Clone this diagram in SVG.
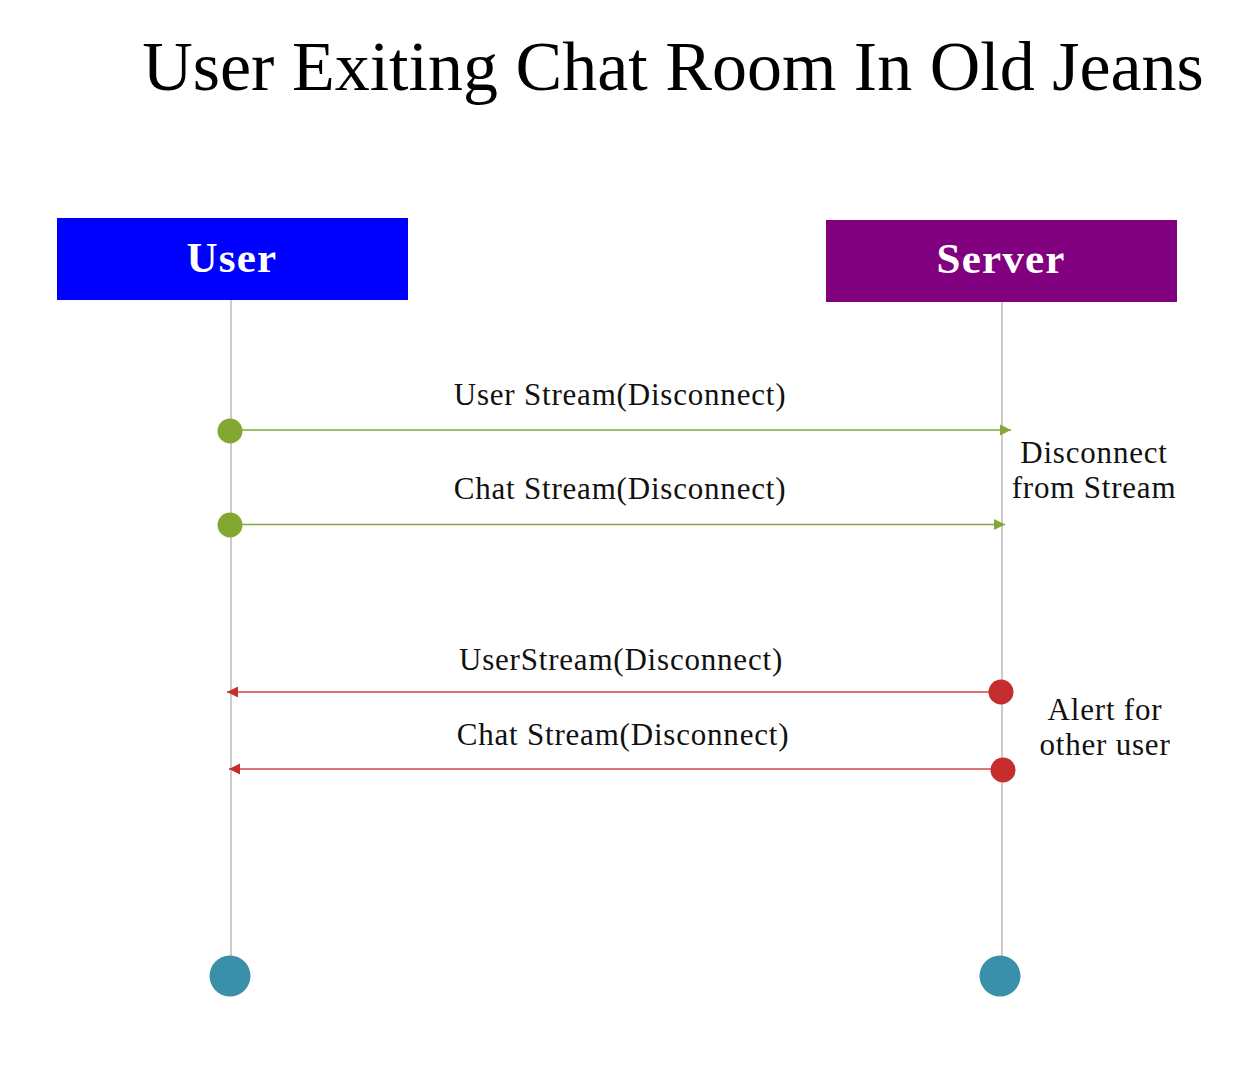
<svg xmlns="http://www.w3.org/2000/svg" width="1256" height="1092" viewBox="0 0 1256 1092">
<style>
.title{font-family:"Liberation Serif","DejaVu Serif",serif;font-size:70px;fill:#000}
.hdr{font-family:"Liberation Serif","DejaVu Serif",serif;font-size:43px;font-weight:bold;fill:#fff;letter-spacing:1.2px}
.lbl{font-family:"Liberation Serif","DejaVu Serif",serif;font-size:31px;fill:#111;letter-spacing:0.8px}
.note{font-family:"Liberation Serif","DejaVu Serif",serif;font-size:31px;fill:#111;letter-spacing:0.8px}
.life{stroke:#a8a8a8;stroke-width:1.2}
.g{stroke:#82a83a;stroke-width:1.5;fill:none}
.r{stroke:#d64545;stroke-width:1.5;fill:none}
</style>
<defs>
<marker id="ag" markerWidth="12" markerHeight="12" refX="11" refY="6" orient="auto" markerUnits="userSpaceOnUse">
<path d="M0,0.5 L11,6 L0,11.5 Z" fill="#82a83a"/>
</marker>
<marker id="ar" markerWidth="12" markerHeight="12" refX="11" refY="6" orient="auto" markerUnits="userSpaceOnUse">
<path d="M0,0.5 L11,6 L0,11.5 Z" fill="#c62d2d"/>
</marker>
</defs>
<rect width="1256" height="1092" fill="#fff"/>
<text class="title" x="673" y="90" text-anchor="middle">User Exiting Chat Room In Old Jeans</text>

<g id="lifelines">
<line class="life" x1="231" y1="300" x2="231" y2="962"/>
<line class="life" x1="1002" y1="302" x2="1002" y2="962"/>
</g>

<g id="user">
<rect x="57" y="218" width="351" height="82" fill="#0000ff"/>
<text class="hdr" x="232" y="272" text-anchor="middle">User</text>
</g>
<g id="server">
<rect x="826" y="220" width="351" height="82" fill="#800080"/>
<text class="hdr" x="1001" y="273" text-anchor="middle">Server</text>
</g>

<g id="connectors">
<line class="g" x1="236" y1="430" x2="1011" y2="430" marker-end="url(#ag)"/>
<line class="g" x1="236" y1="524.5" x2="1005" y2="524.5" marker-end="url(#ag)"/>
<line class="r" x1="996" y1="692" x2="227" y2="692" marker-end="url(#ar)"/>
<line class="r" x1="998" y1="769" x2="229" y2="769" marker-end="url(#ar)"/>
</g>

<g id="messages">
<circle cx="230" cy="431" r="12.5" fill="#82a832"/>
<circle cx="230" cy="525" r="12.5" fill="#82a832"/>
<circle cx="1001" cy="692" r="12.5" fill="#c62d2d"/>
<circle cx="1003" cy="770" r="12.5" fill="#c62d2d"/>
<text class="lbl" x="620" y="405" text-anchor="middle">User Stream(Disconnect)</text>
<text class="lbl" x="620" y="499" text-anchor="middle">Chat Stream(Disconnect)</text>
<text class="lbl" x="621" y="670" text-anchor="middle">UserStream(Disconnect)</text>
<text class="lbl" x="623" y="745" text-anchor="middle">Chat Stream(Disconnect)</text>
</g>

<g id="notes">
<text class="note" x="1094" y="463" text-anchor="middle">Disconnect</text>
<text class="note" x="1094" y="498" text-anchor="middle">from Stream</text>
<text class="note" x="1105" y="720" text-anchor="middle">Alert for</text>
<text class="note" x="1105" y="755" text-anchor="middle">other user</text>
</g>

<g id="ends">
<circle cx="230" cy="976" r="20.5" fill="#3990a8"/>
<circle cx="1000" cy="976" r="20.5" fill="#3990a8"/>
</g>
</svg>
